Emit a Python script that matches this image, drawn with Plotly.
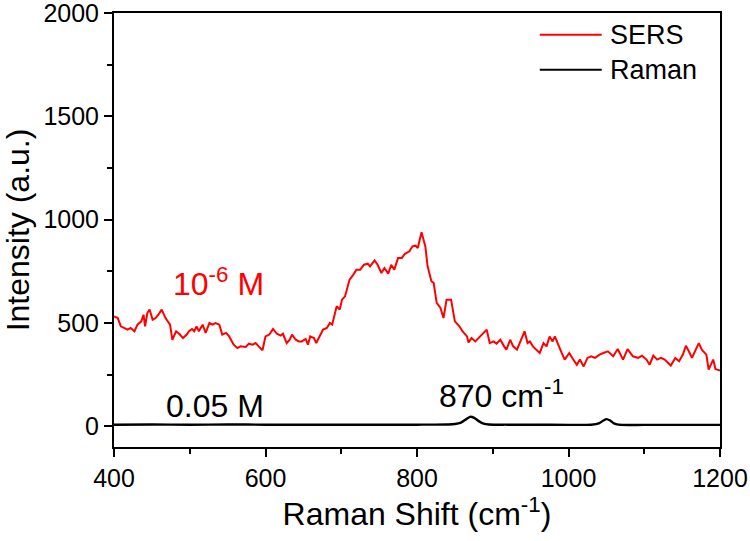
import plotly.graph_objects as go

# SERS spectrum (10^-6 M)
sers_x = [400, 405, 409, 414, 418, 422, 427, 431, 436, 439, 441, 444, 447, 451, 455, 460, 463, 468, 471, 474,
          477, 482, 487, 491, 496, 499, 503, 506, 509, 512, 517, 521, 526, 530, 534, 539, 543, 548, 552, 556,
          558, 563, 567, 574, 578, 583, 587, 591, 596, 600, 605, 610, 615, 620, 623, 628, 632, 635, 640, 644,
          648, 653, 656, 659, 664, 667, 672, 676, 681, 685, 688, 691, 694, 698, 701, 705, 711, 716, 720, 725,
          730, 735, 738, 744, 748, 753, 757, 762, 766, 770, 775, 780, 784, 790, 794, 798, 801, 806, 811, 814,
          819, 822, 826, 831, 835, 839, 845, 850, 856, 860, 866, 868, 872, 877, 883, 888, 892, 896, 901, 905,
          910, 915, 918, 923, 927, 932, 938, 942, 946, 949, 953, 958, 962, 967, 971, 975, 979, 982, 986, 991,
          995, 1001, 1005, 1011, 1015, 1020, 1025, 1030, 1035, 1041, 1046, 1052, 1059, 1065, 1072, 1078, 1085,
          1092, 1097, 1103, 1107, 1112, 1117, 1122, 1127, 1131, 1135, 1141, 1146, 1151, 1155, 1160, 1163, 1168,
          1172, 1176, 1182, 1185, 1188, 1191, 1194, 1198, 1200]
sers_y = [532, 524, 484, 476, 468, 476, 460, 492, 508, 540, 484, 548, 565, 516, 524, 548, 565, 524, 508, 492,
          419, 460, 444, 427, 444, 460, 471, 460, 484, 460, 492, 452, 500, 492, 500, 492, 444, 452, 435, 411,
          395, 379, 387, 384, 400, 395, 403, 387, 368, 435, 444, 471, 448, 439, 448, 403, 419, 444, 419, 411,
          411, 423, 395, 435, 427, 403, 444, 468, 476, 500, 492, 540, 581, 565, 613, 629, 710, 734, 758, 758,
          782, 787, 774, 803, 782, 742, 766, 739, 782, 758, 815, 815, 835, 847, 871, 874, 863, 939, 871, 774,
          702, 694, 597, 573, 524, 613, 613, 508, 484, 460, 435, 406, 427, 411, 435, 452, 468, 403, 411, 400,
          419, 387, 371, 419, 387, 371, 427, 460, 403, 411, 387, 371, 355, 403, 387, 435, 411, 435, 395, 355,
          323, 355, 331, 298, 323, 290, 331, 339, 331, 347, 355, 363, 339, 374, 323, 374, 339,
          331, 342, 323, 298, 342, 323, 331, 323, 310, 294, 331, 315, 347, 390, 355, 331, 371,
          403, 371, 347, 274, 298, 323, 277, 274, 270]

# Normal Raman spectrum (0.05 M)
raman_x = [400, 450, 500, 550, 600, 650, 700, 750, 800, 840, 850, 858, 864, 870, 876, 882, 888, 895, 920, 950,
           1000, 1030, 1040, 1046, 1050, 1055, 1060, 1066, 1100, 1150, 1200]
raman_y = [8, 9, 8, 9, 8, 8, 8, 8, 8, 9, 11, 18, 32, 46, 40, 24, 13, 9, 8, 8,
           7, 8, 14, 28, 35, 28, 14, 8, 7, 7, 7]

series_names = ["SERS", "Raman"]
series_colors = ["#ff0000", "#000000"]

x_ticks = [400, 600, 800, 1000, 1200]
y_ticks = [0, 500, 1000, 1500, 2000]

FONT = "Arial, 'Liberation Sans', sans-serif"

fig = go.Figure()
fig.add_trace(go.Scatter(x=sers_x, y=sers_y, mode="lines", name=series_names[0],
                         line=dict(color=series_colors[0], width=2), showlegend=False))
fig.add_trace(go.Scatter(x=raman_x, y=raman_y, mode="lines", name=series_names[1],
                         line=dict(color=series_colors[1], width=2.4, shape="spline", smoothing=0.8),
                         showlegend=False))

axis_common = dict(showline=True, linecolor="black", linewidth=2, mirror=True,
                   ticks="outside", ticklen=8, tickwidth=2, tickcolor="black",
                   showgrid=False, zeroline=False, automargin=False, ticklabeloverflow="allow",
                   tickfont=dict(family=FONT, size=25, color="black"))

fig.update_xaxes(range=[400, 1200], tickvals=x_ticks, ticktext=[str(v) for v in x_ticks],
                 minor=dict(dtick=100, tick0=400, ticks="outside", ticklen=5, tickwidth=1.5, tickcolor="black"),
                 title=dict(text="Raman Shift (cm<sup>-1</sup>)", font=dict(family=FONT, size=32, color="black"),
                            standoff=9),
                 **axis_common)
fig.update_yaxes(range=[-100, 2000], tickvals=y_ticks, ticktext=[str(v) for v in y_ticks],
                 minor=dict(dtick=250, tick0=0, ticks="outside", ticklen=5, tickwidth=1.5, tickcolor="black"),
                 title=dict(text="Intensity (a.u.)", font=dict(family=FONT, size=32, color="black"),
                            standoff=4),
                 **axis_common)

annots = [
    dict(x=538, y=700, text="10<sup>-6</sup> M", color="#ff0000"),
    dict(x=533, y=97, text="0.05 M", color="black"),
    dict(x=912, y=155, text="870 cm<sup>-1</sup>", color="black"),
]
for a in annots:
    fig.add_annotation(x=a["x"], y=a["y"], xref="x", yref="y", text=a["text"], showarrow=False,
                       font=dict(family=FONT, size=32, color=a["color"]))

# legend (manual, long line samples as in the reference)
leg_rows = [0.95, 0.869]
for name, color, yy in zip(series_names, series_colors, leg_rows):
    fig.add_shape(type="line", xref="paper", yref="paper", x0=0.7026, x1=0.8048, y0=yy, y1=yy,
                  line=dict(color=color, width=2))
    fig.add_annotation(xref="paper", yref="paper", x=0.816, y=yy, text=name, showarrow=False,
                       xanchor="left", yanchor="middle",
                       font=dict(family=FONT, size=27, color="black"))

fig.update_layout(width=750, height=541, paper_bgcolor="white", plot_bgcolor="white",
                  margin=dict(l=113.5, r=29.5, t=13.3, b=93.7), showlegend=False,
                  font=dict(family=FONT, color="black"))

# remove the browser's default 8 px body margin so the figure sits at the page origin
fig.write_html("out.html", config={"displayModeBar": False},
               post_script="document.body.style.margin='0px';")
